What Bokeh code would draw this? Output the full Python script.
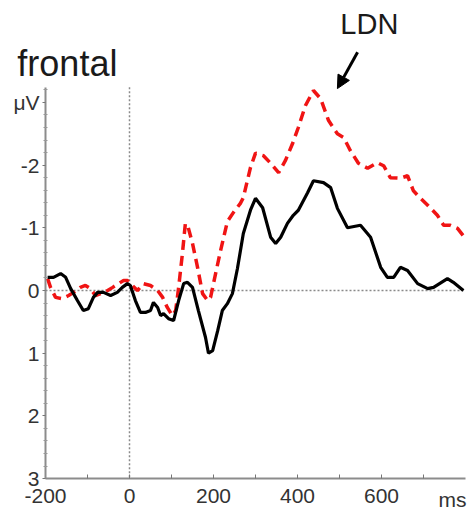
from bokeh.plotting import figure
from bokeh.models import Range1d, FixedTicker, Label, Arrow, NormalHead
from bokeh.embed import file_html
from bokeh.resources import INLINE

# ---- data (time in ms, amplitude in microvolts; negative plotted upward) ----
black_ms = [-195, -181, -164, -152, -140, -124, -110, -98, -86, -76, -62, -45, -29, -17, -5, 2,
            14, 26, 38, 50, 57, 67, 74, 81, 93, 105, 117, 129, 138, 150, 164, 181, 188, 198,
            210, 221, 233, 245, 257, 271, 288, 300, 317, 336, 348, 360, 376, 390, 402, 424,
            438, 462, 479, 495, 519, 550, 574, 598, 614, 629, 645, 662, 686, 710, 724, 757,
            771, 795]
black_uv = [-0.21, -0.21, -0.27, -0.21, -0.03, 0.16, 0.32, 0.29, 0.11, 0.03, 0.03, 0.08, 0.03,
            -0.05, -0.11, -0.08, 0.16, 0.35, 0.35, 0.32, 0.19, 0.27, 0.40, 0.37, 0.45, 0.48,
            0.16, -0.11, -0.13, -0.05, 0.32, 0.75, 1.00, 0.96, 0.64, 0.32, 0.21, 0.05, -0.35,
            -0.91, -1.28, -1.47, -1.32, -0.85, -0.75, -0.85, -1.07, -1.20, -1.28, -1.56, -1.75,
            -1.72, -1.64, -1.31, -1.00, -1.04, -0.85, -0.37, -0.21, -0.21, -0.37, -0.32, -0.11,
            -0.03, -0.05, -0.19, -0.13, 0.0]

red_ms = [-195, -188, -176, -160, -145, -133, -117, -105, -93, -81, -69, -52, -40, -26, -14, -5,
          7, 19, 33, 50, 67, 79, 90, 102, 110, 117, 126, 133, 140, 150, 162, 174, 186, 193, 205,
          217, 233, 248, 264, 271, 288, 300, 319, 336, 355, 371, 388, 402, 419, 438, 455, 474,
          495, 510, 526, 545, 567, 590, 605, 621, 645, 662, 676, 693, 710, 733, 748, 764, 781,
          800]
red_uv = [-0.19, -0.05, 0.11, 0.13, 0.08, 0.03, -0.05, -0.08, -0.03, 0.08, 0.05, 0.0, -0.05,
          -0.11, -0.16, -0.16, -0.08, 0.0, -0.11, -0.08, 0.0, 0.11, 0.27, 0.40, 0.32, -0.05,
          -0.59, -1.07, -1.00, -0.75, -0.37, 0.05, 0.16, 0.11, -0.27, -0.64, -1.10, -1.25,
          -1.39, -1.48, -1.96, -2.19, -2.15, -2.03, -1.88, -2.07, -2.34, -2.60, -2.95, -3.19,
          -3.06, -2.71, -2.50, -2.44, -2.23, -2.03, -1.95, -2.04, -1.99, -1.80, -1.79, -1.83,
          -1.59, -1.47, -1.36, -1.20, -1.04, -1.04, -0.99, -0.83]

x_lim = [-200, 800]          # extent of the time axis (ms)
y_lim = [-3.24, 3]           # extent of the amplitude axis (µV)
x_ticks = [-200, 0, 200, 400, 600]
x_labels = {-200: "-200", 0: "0", 200: "200", 400: "400", 600: "600"}
x_minor = [-100, 100, 300, 500, 700]
y_ticks = [-3, -2, -1, 0, 1, 2, 3]
y_labels = {-3: "μV", -2: "-2", -1: "-1", 0: "0", 1: "1", 2: "2", 3: "3"}
y_minor = [-3.2, -2.8, -2.6, -2.4, -2.2, -1.8, -1.6, -1.4, -1.2, -0.8, -0.6, -0.4, -0.2,
           0.2, 0.4, 0.6, 0.8, 1.2, 1.4, 1.6, 1.8, 2.2, 2.4, 2.6, 2.8]

FONT = "Liberation Sans"
W, H = 475, 513
PX_PER_MS = 0.42
PX_PER_UV = 62.7
X0_PX, Y0_PX = 129, 290      # pixel position of (0 ms, 0 µV)

p = figure(width=W, height=H, output_backend="svg", toolbar_location=None,
           x_range=Range1d(-X0_PX / PX_PER_MS, (W - X0_PX) / PX_PER_MS),
           y_range=Range1d((H - Y0_PX) / PX_PER_UV, -Y0_PX / PX_PER_UV),
           min_border_left=0, min_border_right=0, min_border_top=0, min_border_bottom=0)
p.outline_line_color = None
p.grid.visible = False
p.background_fill_color = "white"
p.border_fill_color = "white"

# zero reference lines (dotted)
p.line(x_lim, [0, 0], line_color="#8a8a8a", line_width=1.5, line_dash="2 2")
p.line([0, 0], y_lim, line_color="#8a8a8a", line_width=1.5, line_dash="2 2")

p.line(red_ms, red_uv, line_color="#f01414", line_width=3.5, line_dash="10 6")
p.line(black_ms, black_uv, line_color="black", line_width=3.2)

# axes placed at fixed data locations
xa = p.xaxis[0]
xa.fixed_location = y_lim[1]
xa.bounds = tuple(x_lim)
xa.ticker = FixedTicker(ticks=x_ticks, minor_ticks=x_minor)
xa.major_label_overrides = x_labels
xa.axis_line_color = "#8c8c8c"
xa.axis_line_width = 2
xa.major_tick_in = 4
xa.major_tick_out = 0
xa.minor_tick_in = 4
xa.minor_tick_out = 0
xa.major_tick_line_color = "#777777"
xa.minor_tick_line_color = "#777777"
xa.major_label_standoff = 10
xa.major_label_text_font = FONT
xa.major_label_text_font_size = "21px"
xa.major_label_text_color = "#333333"

ya = p.yaxis[0]
ya.fixed_location = x_lim[0]
ya.bounds = tuple(y_lim)
ya.ticker = FixedTicker(ticks=y_ticks, minor_ticks=y_minor)
ya.major_label_overrides = y_labels
ya.axis_line_color = "#8c8c8c"
ya.axis_line_width = 2
ya.major_tick_in = 0
ya.major_tick_out = 3
ya.minor_tick_in = 2
ya.minor_tick_out = 2
ya.major_tick_line_color = "#777777"
ya.minor_tick_line_color = "#999999"
ya.major_label_standoff = 3
ya.major_label_text_font = FONT
ya.major_label_text_font_size = "21px"
ya.major_label_text_color = "#333333"

# annotations
p.add_layout(Label(x=-267, y=-3.62, text="frontal", text_font=FONT, text_font_size="36px",
                   text_color="#1a1a1a", text_align="left", text_baseline="alphabetic"))
p.add_layout(Label(x=571, y=-4.25, text="LDN", text_font=FONT, text_font_size="29px",
                   text_color="#1a1a1a", text_align="center", text_baseline="alphabetic"))
p.add_layout(Label(x=769, y=3.33, text="ms", text_font=FONT, text_font_size="21px",
                   text_color="#333333", text_align="center", text_baseline="middle"))
p.add_layout(Arrow(x_start=543, y_start=-3.80, x_end=495, y_end=-3.22, line_color="black",
                   line_width=3, end=NormalHead(size=13, fill_color="black", line_color="black")))

open("out.html", "w").write(file_html(p, INLINE))
